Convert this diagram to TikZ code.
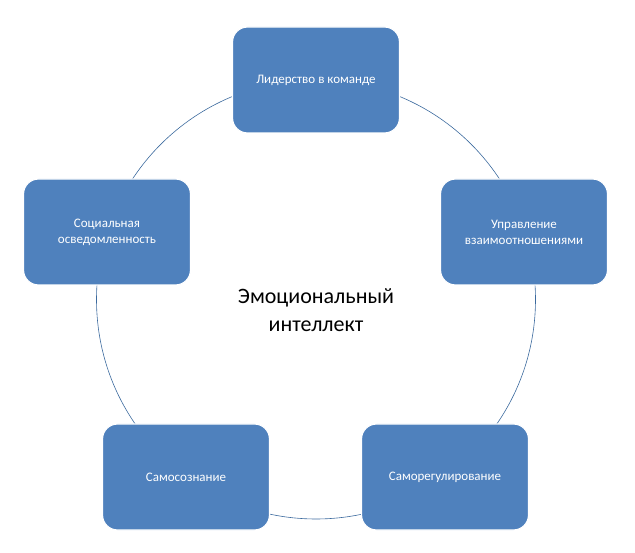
\documentclass[tikz,border=0pt]{standalone}
\usepackage{fontspec}
\setmainfont{Carlito}
\definecolor{boxblue}{HTML}{4F81BD}
\definecolor{edgeblue}{HTML}{3C6A9E}
\begin{document}
\begin{tikzpicture}[x=1pt,y=-1pt,
  box/.style={draw=white,line width=1.2pt,fill=boxblue,rounded corners=15pt,minimum width=167pt,minimum height=106pt,text=white,font=\fontsize{13}{16}\selectfont,align=center,inner sep=2pt}]
\useasboundingbox (0,0) rectangle (635,553);
\draw[edgeblue,line width=0.6pt] (316,299.5) circle (219.5);
\node[font=\fontsize{22}{28}\selectfont,align=center] (c) at (316,310) {Эмоциональный\\интеллект};
\node[box] (a) at (316,80) {Лидерство в команде};
\node[box] (b) at (524,232) {Управление\\взаимоотношениями};
\node[box] (d) at (445,477) {Саморегулирование};
\node[box] (e) at (186,477) {Самосознание};
\node[box] (f) at (107,232) {Социальная\\осведомленность};
\end{tikzpicture}
\end{document}
